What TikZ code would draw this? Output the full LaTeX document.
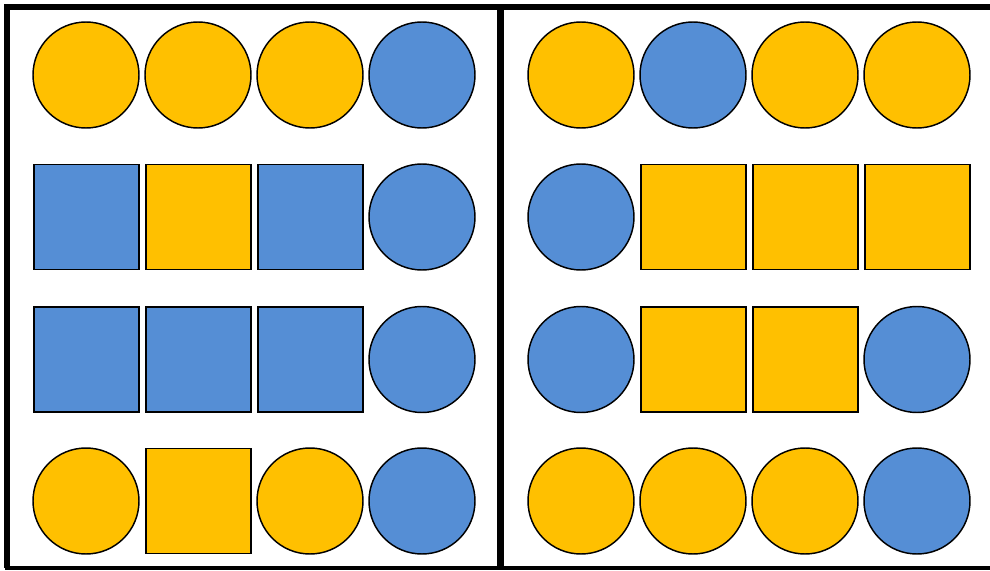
\documentclass[tikz,border=0pt]{standalone}
\usetikzlibrary{positioning}
\definecolor{gold}{HTML}{FFC000}
\definecolor{sky}{HTML}{558ED5}
\tikzset{
  disc/.style={circle,draw=black,line width=1.1pt,minimum size=79.5pt,inner sep=0pt},
  tile/.style={rectangle,draw=black,line width=1.1pt,minimum size=78.75pt,inner sep=0pt},
}

\begin{document}
\begin{tikzpicture}[x=0.75pt,y=-0.75pt]
  \useasboundingbox (0,0) rectangle (990,571);
  % frame
  \draw[line width=4.5pt] (990,7) -- (6.5,7) -- (6.5,568);
  \draw[line width=3pt] (4.5,568) -- (990,568);
  \draw[line width=5pt] (500.5,7) -- (500.5,568);
  % left panel
  \foreach \x/\s/\c [count=\i] in {86/disc/gold,198/disc/gold,310/disc/gold,422/disc/sky}
    \node[\s,fill=\c] (la\i) at (\x,75) {};
  \foreach \x/\s/\c [count=\i] in {86.5/tile/sky,198.5/tile/gold,310.5/tile/sky,422/disc/sky}
    \node[\s,fill=\c] (lb\i) at (\x,217) {};
  \foreach \x/\s/\c [count=\i] in {86.5/tile/sky,198.5/tile/sky,310.5/tile/sky,422/disc/sky}
    \node[\s,fill=\c] (lc\i) at (\x,359.5) {};
  \foreach \x/\s/\c [count=\i] in {86/disc/gold,198.5/tile/gold,310/disc/gold,422/disc/sky}
    \node[\s,fill=\c] (ld\i) at (\x,501) {};
  % right panel
  \foreach \x/\s/\c [count=\i] in {581/disc/gold,693/disc/sky,805/disc/gold,917/disc/gold}
    \node[\s,fill=\c] (ra\i) at (\x,75) {};
  \foreach \x/\s/\c [count=\i] in {581/disc/sky,693.5/tile/gold,805.5/tile/gold,917.5/tile/gold}
    \node[\s,fill=\c] (rb\i) at (\x,217) {};
  \foreach \x/\s/\c [count=\i] in {581/disc/sky,693.5/tile/gold,805.5/tile/gold,917/disc/sky}
    \node[\s,fill=\c] (rc\i) at (\x,359.5) {};
  \foreach \x/\s/\c [count=\i] in {581/disc/gold,693/disc/gold,805/disc/gold,917/disc/sky}
    \node[\s,fill=\c] (rd\i) at (\x,501) {};
\end{tikzpicture}
\end{document}
